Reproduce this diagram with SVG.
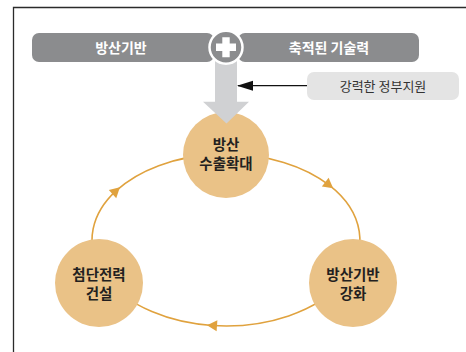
<svg xmlns="http://www.w3.org/2000/svg" width="466" height="352" viewBox="0 0 466 352">
  <style>
    .frame { fill: none; stroke: #2b2b2b; stroke-width: 1.3; }
    .bar { fill: #8b8c8e; }
    .bartxt { font-family: "Noto Sans CJK KR", "Noto Sans", sans-serif; font-weight: 700; font-size: 14px; fill: #ffffff; text-anchor: middle; }
    .support { fill: #e4e4e4; }
    .supptxt { font-family: "Noto Sans CJK KR", "Noto Sans", sans-serif; font-weight: 400; font-size: 13px; fill: #333333; text-anchor: middle; }
    .orbit { fill: none; stroke: #e0a23e; stroke-width: 1.6; }
    .node { fill: #eac287; }
    .nodetxt { font-family: "Noto Sans CJK KR", "Noto Sans", sans-serif; font-weight: 700; font-size: 14.5px; fill: #231f20; text-anchor: middle; }
    .bigarrow { fill: #d0d1d3; }
  </style>
  <defs>
    <marker id="tri" markerUnits="userSpaceOnUse" markerWidth="12" markerHeight="12" viewBox="0 0 12 12" refX="6" refY="6" orient="auto">
      <path d="M1,0.5 L11,6 L1,11.5 Z" fill="#e0a23e"/>
    </marker>
    <marker id="blk" markerUnits="userSpaceOnUse" markerWidth="16" markerHeight="12" viewBox="0 0 16 12" refX="15" refY="6" orient="auto">
      <path d="M0,1 L16,6 L0,11 Z" fill="#111111"/>
    </marker>
  </defs>

  <path class="frame" d="M13.5,352 L13.5,7.5 L466,7.5"/>

  <g id="connectors">
    <path class="orbit" d="M116.2,190.7 A134,86 0 0 1 329.2,185.2" marker-end="url(#tri)"/>
    <path class="orbit" d="M329.2,185.2 A134,86 0 0 1 212,325.5" marker-end="url(#tri)"/>
    <path class="orbit" d="M212,325.5 A134,86 0 0 1 116.2,190.7" marker-end="url(#tri)"/>
    <line x1="307" y1="85.7" x2="238" y2="85.7" stroke="#111111" stroke-width="1.2" marker-end="url(#blk)"/>
  </g>

  <g id="node-top">
    <circle class="node" cx="226" cy="155" r="43"/>
    <text class="nodetxt" x="226" y="150">방산</text>
    <text class="nodetxt" x="226" y="169">수출확대</text>
  </g>
  <g id="node-left">
    <circle class="node" cx="99" cy="283" r="44"/>
    <text class="nodetxt" x="99" y="280">첨단전력</text>
    <text class="nodetxt" x="99" y="299">건설</text>
  </g>
  <g id="node-right">
    <circle class="node" cx="353" cy="283" r="44"/>
    <text class="nodetxt" x="353" y="280">방산기반</text>
    <text class="nodetxt" x="353" y="299">강화</text>
  </g>

  <g id="big-arrow">
    <path class="bigarrow" d="M215,60 L237,60 L237,101.7 L249,101.7 L226.5,123.5 L203,101.7 L215,101.7 Z"/>
  </g>

  <g id="bar-left">
    <rect class="bar" x="32" y="33" width="182" height="29" rx="7"/>
    <text class="bartxt" x="121" y="52.5">방산기반</text>
  </g>
  <g id="bar-right">
    <rect class="bar" x="238" y="33" width="181" height="29" rx="7"/>
    <text class="bartxt" x="329" y="52.5">축적된 기술력</text>
  </g>
  <g id="plus">
    <circle cx="226" cy="47.3" r="16.5" fill="#8b8c8e" stroke="#ffffff" stroke-width="2.5"/>
    <path d="M222.3,37.3 H229.7 V43.6 H236 V51 H229.7 V57.3 H222.3 V51 H216 V43.6 H222.3 Z" fill="#ffffff"/>
  </g>

  <g id="support">
    <rect class="support" x="307" y="72" width="152" height="28" rx="7"/>
    <text class="supptxt" x="383" y="90.5">강력한 정부지원</text>
  </g>
</svg>
